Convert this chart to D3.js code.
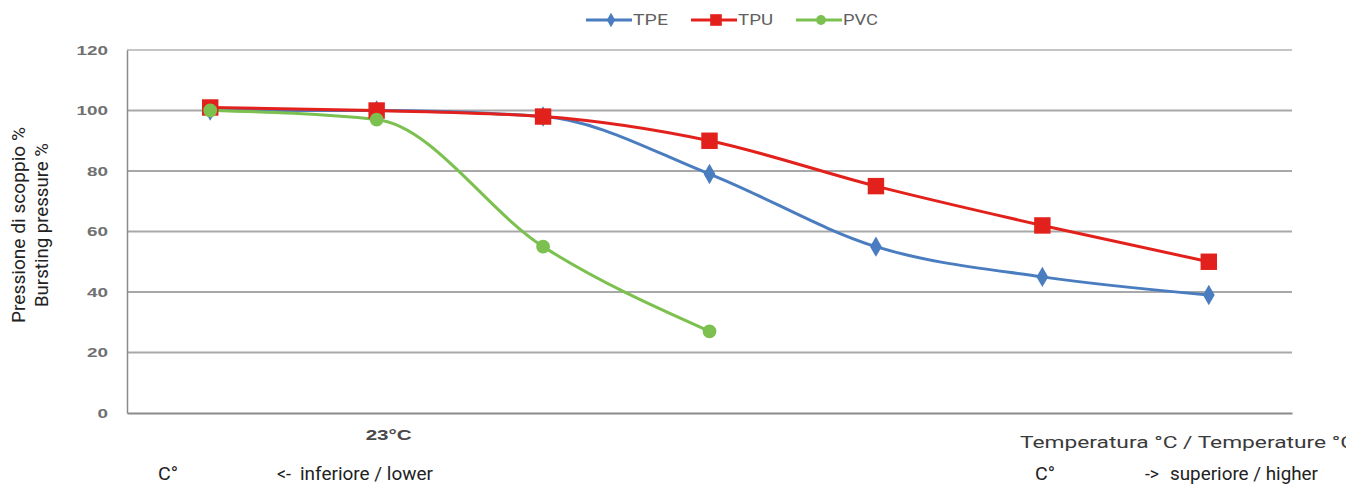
<!DOCTYPE html>
<html>
<head>
<meta charset="utf-8">
<script src="https://cdn.jsdelivr.net/npm/d3@7"></script>
<style>
	body { margin: 0; background: #fff; }
	svg { font-family: Roboto, "Noto Sans", sans-serif; }
</style>
</head>
<body>
<div id="chart"></div>
<script>
// category slots along the temperature axis (only the second is labelled)
var categories = ["t1", "t2", "t3", "t4", "t5", "t6", "t7"];
var xTickLabels = {"t2": "23°C"};

var tpe = [100, 100, 98, 79, 55, 45, 39];
var tpu = [101, 100, 98, 90, 75, 62, 50];
var pvc = [100, 97, 55, 27];

var yTicks = [0, 20, 40, 60, 80, 100, 120];

var series = [
	{name: "TPE", values: tpe, color: "#4a7cc0", marker: d3.symbolDiamond, size: 120},
	{name: "TPU", values: tpu, color: "#e3211c", marker: d3.symbolSquare, size: 270},
	{name: "PVC", values: pvc, color: "#7cc150", marker: d3.symbolCircle, size: 150}
];

var margin = {top: 50, right: 54, bottom: 71, left: 127},
	width = 1346 - margin.left - margin.right,
	height = 484 - margin.top - margin.bottom;

var svg = d3.select("#chart")
	.append("svg")
	.attr("width", 1346)
	.attr("height", 484);

var g = svg.append("g")
	.attr("transform", `translate(${margin.left},${margin.top})`);

var x = d3.scaleBand()
	.domain(categories)
	.range([0, width]);

var y = d3.scaleLinear()
	.domain([0, 120])
	.range([height, 0]);

// gridlines
g.append("g")
	.attr("class", "grid")
	.selectAll("line")
	.data(yTicks.filter(d => d > 0))
	.enter()
	.append("line")
	.attr("x1", 0)
	.attr("x2", width)
	.attr("y1", d => y(d))
	.attr("y2", d => y(d))
	.attr("stroke", d => d == 120 ? "#c4c4c4" : "#a8a8a8")
	.attr("stroke-width", 2);

var yAxis = d3.axisLeft(y)
	.tickValues(yTicks)
	.tickSize(0)
	.tickPadding(19);

// the original picture is stretched sideways, so texts get a forced length
g.append("g")
	.attr("class", "yAxis")
	.call(yAxis)
	.call(a => a.select(".domain").attr("stroke", "#8a8a8a").attr("stroke-width", 1.5))
	.selectAll("text")
	.attr("fill", "#707070")
	.style("font-size", "13px")
	.style("font-weight", "bold")
	.attr("textLength", d => String(d).length * 10.5)
	.attr("lengthAdjust", "spacingAndGlyphs");

var xAxis = d3.axisBottom(x)
	.tickSize(0)
	.tickPadding(17)
	.tickFormat(d => xTickLabels[d] || "");

g.append("g")
	.attr("class", "xAxis")
	.attr("transform", `translate(0,${height})`)
	.call(xAxis)
	.call(a => a.select(".domain").attr("stroke", "#8a8a8a").attr("stroke-width", 2))
	.selectAll("text")
	.filter(d => xTickLabels[d])
	.attr("fill", "#4a4a4a")
	.attr("dx", 12)
	.style("font-size", "14px")
	.style("font-weight", "bold")
	.attr("textLength", 46)
	.attr("lengthAdjust", "spacingAndGlyphs");

var line = d3.line()
	.x((d, i) => x(categories[i]) + x.bandwidth() / 2)
	.y(d => y(d))
	.curve(d3.curveMonotoneX);

series.forEach(s => {
	g.append("path")
		.datum(s.values)
		.attr("fill", "none")
		.attr("stroke", s.color)
		.attr("stroke-width", 3)
		.attr("d", line);
});

series.forEach(s => {
	g.selectAll(".pt" + s.name)
		.data(s.values)
		.enter()
		.append("path")
		.attr("class", "pt" + s.name)
		.attr("transform", (d, i) => `translate(${x(categories[i]) + x.bandwidth() / 2},${y(d)})`)
		.attr("d", d3.symbol().type(s.marker).size(s.size))
		.attr("fill", s.color);
});

// legend
var legend = svg.append("g")
	.attr("transform", "translate(586,20)");

var legendX = [0, 105, 210];
series.forEach((s, i) => {
	var lg = legend.append("g").attr("transform", `translate(${legendX[i]},0)`);
	lg.append("line")
		.attr("x1", 0).attr("x2", 46)
		.attr("stroke", s.color)
		.attr("stroke-width", 3);
	lg.append("path")
		.attr("transform", "translate(25,0)")
		.attr("d", d3.symbol().type(s.marker).size(s.size * 0.5))
		.attr("fill", s.color);
	lg.append("text")
		.attr("x", 47)
		.attr("dy", "0.35em")
		.attr("fill", "#606060")
		.style("font-size", "14px")
		.attr("textLength", 35)
		.attr("lengthAdjust", "spacingAndGlyphs")
		.text(s.name);
});

// y axis title
var yTitle = svg.append("text")
	.attr("transform", "translate(25,225) rotate(-90)")
	.attr("text-anchor", "middle")
	.attr("fill", "#222")
	.style("font-size", "18px");
yTitle.append("tspan").attr("x", 0).attr("y", 0)
	.attr("textLength", 196).attr("lengthAdjust", "spacingAndGlyphs")
	.text("Pressione di scoppio %");
yTitle.append("tspan").attr("x", 0).attr("y", 23)
	.attr("textLength", 164).attr("lengthAdjust", "spacingAndGlyphs")
	.text("Bursting pressure %");

// x axis title (runs off the right edge like the original)
svg.append("text")
	.attr("x", 1020)
	.attr("y", 448)
	.attr("fill", "#3a3a3a")
	.style("font-size", "16px")
	.attr("textLength", 335)
	.attr("lengthAdjust", "spacingAndGlyphs")
	.text("Temperatura °C / Temperature °C");

// bottom captions
var captions = [
	{x: 158, text: "C°", len: 20},
	{x: 277, text: "<-", len: 14},
	{x: 300, text: "inferiore / lower", len: 133},
	{x: 1035, text: "C°", len: 20},
	{x: 1145, text: "->", len: 14},
	{x: 1170, text: "superiore / higher", len: 148}
];
svg.selectAll(".caption")
	.data(captions)
	.enter()
	.append("text")
	.attr("class", "caption")
	.attr("x", d => d.x)
	.attr("y", 480)
	.attr("fill", "#222")
	.style("font-size", "18px")
	.attr("textLength", d => d.len)
	.attr("lengthAdjust", "spacingAndGlyphs")
	.text(d => d.text);
</script>
</body>
</html>
